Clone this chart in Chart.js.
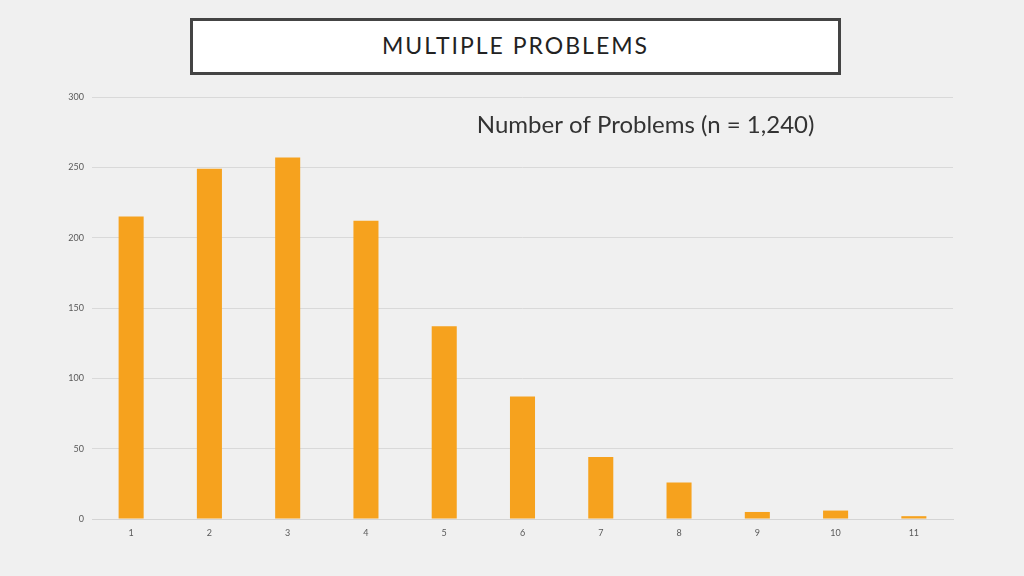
<!DOCTYPE html>
<html>
<head>
<meta charset="utf-8">
<script src="https://cdn.jsdelivr.net/npm/chart.js@4"></script>
<style>
  html, body { margin: 0; padding: 0; background: #f0f0f0; }
  body { width: 1024px; height: 576px; position: relative; overflow: hidden; font-family: Lato, "Noto Sans", sans-serif; }
  #titleBox {
    position: absolute; left: 190px; top: 18px; width: 645px; height: 51px;
    background: #fff; border: 3px solid #444;
    text-align: center; line-height: 49px;
    font-size: 23px; letter-spacing: 2px; color: #222;
  }
  #chartWrap { position: absolute; left: 0; top: 0; width: 1024px; height: 576px; }
</style>
</head>
<body>
<div id="chartWrap"><canvas id="problems_chart"></canvas></div>
<div id="titleBox">MULTIPLE PROBLEMS</div>
<script>
const categories = ['1', '2', '3', '4', '5', '6', '7', '8', '9', '10', '11'];
const counts = [215, 249, 257, 212, 137, 87, 44, 26, 5, 6, 2];
const yTicks = [0, 50, 100, 150, 200, 250, 300];

// chart title drawn inside the plot area
const innerTitle = {
  id: 'innerTitle',
  afterDraw(chart) {
    const ctx = chart.ctx;
    const area = chart.chartArea;
    ctx.save();
    ctx.font = '24px Lato, "Noto Sans", sans-serif';
    ctx.fillStyle = '#333';
    ctx.textAlign = 'center';
    ctx.textBaseline = 'middle';
    ctx.fillText('Number of Problems (n = 1,240)', area.left + (area.right - area.left) * 0.643, area.top + 28);
    ctx.restore();
  }
};

const ctx = document.getElementById('problems_chart').getContext('2d');
new Chart(ctx, {
  type: 'bar',
  data: {
    labels: categories,
    datasets: [{
      label: 'Number of Problems',
      backgroundColor: '#F6A21E',
      data: counts,
      barPercentage: 0.64,
      categoryPercentage: 0.5
    }]
  },
  options: {
    responsive: true,
    maintainAspectRatio: false,
    animation: false,
    layout: {
      padding: { left: 0, right: 71, top: 97, bottom: 0 }
    },
    plugins: {
      legend: { display: false },
      title: { display: false },
      tooltip: { enabled: false }
    },
    scales: {
      x: {
        grid: { display: false },
        border: { color: '#d4d4d4', width: 1 },
        ticks: { color: '#595959', font: { size: 9, family: 'Lato' }, padding: 1 },
        afterFit(scale) { scale.height = 57; }
      },
      y: {
        min: 0,
        max: 300,
        afterBuildTicks(scale) { scale.ticks = yTicks.map(v => ({ value: v })); },
        grid: { color: '#d9d9d9', drawTicks: false },
        border: { display: false },
        ticks: { color: '#595959', font: { size: 9, family: 'Lato' }, padding: 8 },
        afterFit(scale) { scale.width = 92; }
      }
    }
  },
  plugins: [innerTitle]
});
</script>
</body>
</html>
